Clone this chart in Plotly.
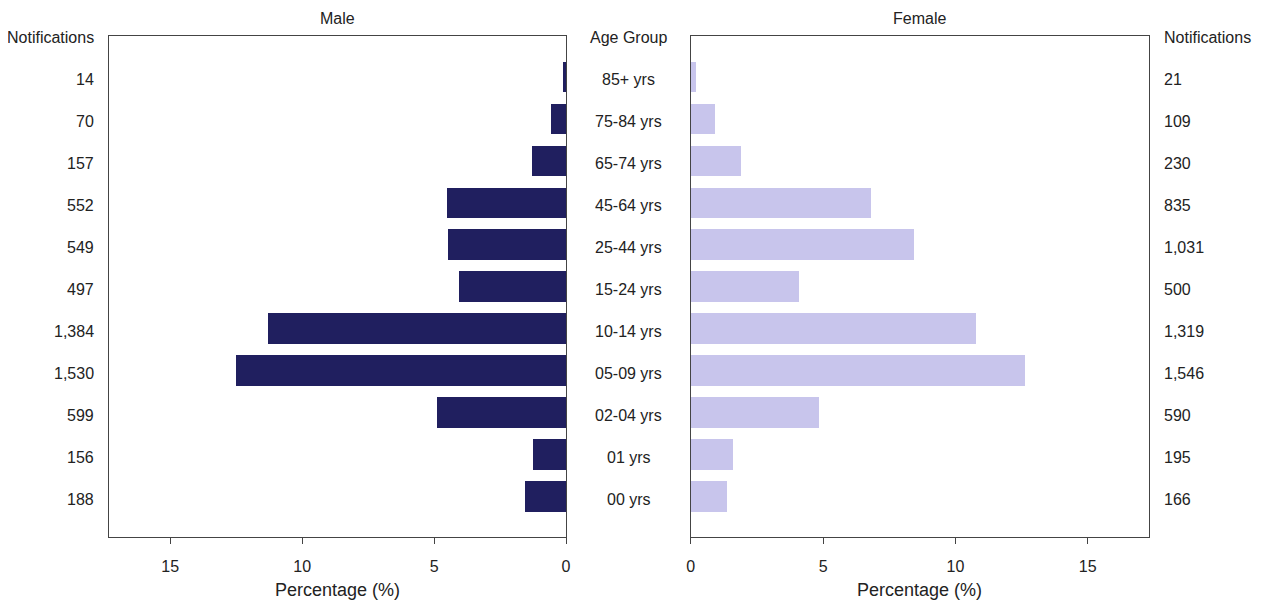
import plotly.graph_objects as go

W, H = 1263, 603

age_groups = ["00 yrs", "01 yrs", "02-04 yrs", "05-09 yrs", "10-14 yrs", "15-24 yrs",
              "25-44 yrs", "45-64 yrs", "65-74 yrs", "75-84 yrs", "85+ yrs"]
male_notifications = ["188", "156", "599", "1,530", "1,384", "497", "549", "552", "157", "70", "14"]
female_notifications = ["166", "195", "590", "1,546", "1,319", "500", "1,031", "835", "230", "109", "21"]
male_pct = [1.54, 1.27, 4.89, 12.50, 11.31, 4.06, 4.49, 4.51, 1.28, 0.57, 0.11]
female_pct = [1.36, 1.59, 4.82, 12.63, 10.78, 4.09, 8.42, 6.82, 1.88, 0.89, 0.17]
x_ticks = [0, 5, 10, 15]

ypos = list(range(len(age_groups)))

MALE_C = "#201F5F"
FEMALE_C = "#C8C5EC"
LINE_C = "#444444"
TXT_C = "#222222"
FONT = "Liberation Sans, Arial, sans-serif"
FS = 16
OFF = 8  # page body margin

def px_x(p):
    return (p - OFF) / W

def px_y(p):
    return 1 - (p - OFF) / H

fig = go.Figure()
fig.add_trace(go.Bar(x=male_pct, y=ypos, orientation="h", width=0.727,
                     marker=dict(color=MALE_C, line=dict(width=0)),
                     xaxis="x", yaxis="y", showlegend=False))
fig.add_trace(go.Bar(x=female_pct, y=ypos, orientation="h", width=0.727,
                     marker=dict(color=FEMALE_C, line=dict(width=0)),
                     xaxis="x2", yaxis="y2", showlegend=False))

xr = 17.32
yr = [-0.975, 10.975]
ydom = [px_y(537.3), px_y(36)]

axis_common = dict(showline=True, linecolor=LINE_C, linewidth=1, mirror=True,
                   showgrid=False, zeroline=False)

fig.update_layout(
    width=W, height=H,
    margin=dict(l=0, r=0, t=0, b=0),
    plot_bgcolor="white", paper_bgcolor="white",
    font=dict(family=FONT, size=FS, color=TXT_C),
    bargap=0,
    xaxis=dict(domain=[px_x(105.7), px_x(566)], range=[xr, 0], tickvals=x_ticks,
               ticks="outside", ticklen=6, tickcolor=LINE_C, ticklabelstandoff=8,
               tickfont=dict(size=FS, family=FONT, color=TXT_C),
               anchor="y", **axis_common),
    yaxis=dict(domain=ydom, range=yr, showticklabels=False, ticks="",
               anchor="x", **axis_common),
    xaxis2=dict(domain=[px_x(691.7), px_x(1153.3)], range=[0, xr], tickvals=x_ticks,
                ticks="outside", ticklen=6, tickcolor=LINE_C, ticklabelstandoff=8,
                tickfont=dict(size=FS, family=FONT, color=TXT_C),
                anchor="y2", **axis_common),
    yaxis2=dict(domain=ydom, range=yr, showticklabels=False, ticks="",
                anchor="x2", **axis_common),
)

ann = []
for i, (ag, mn, fn) in enumerate(zip(age_groups, male_notifications, female_notifications)):
    ann.append(dict(x=px_x(629), y=i, xref="paper", yref="y", text=ag, showarrow=False,
                    xanchor="center", yanchor="middle", yshift=-3))
    ann.append(dict(x=px_x(93), y=i, xref="paper", yref="y", text=mn, showarrow=False,
                    xanchor="right", yanchor="middle", yshift=-3))
    ann.append(dict(x=px_x(1166), y=i, xref="paper", yref="y", text=fn, showarrow=False,
                    xanchor="left", yanchor="middle", yshift=-3))

ann += [
    dict(x=px_x(93), y=px_y(38), xref="paper", yref="paper", text="Notifications",
         showarrow=False, xanchor="right", yanchor="middle"),
    dict(x=px_x(1166), y=px_y(38), xref="paper", yref="paper", text="Notifications",
         showarrow=False, xanchor="left", yanchor="middle"),
    dict(x=px_x(629), y=px_y(38), xref="paper", yref="paper", text="Age Group",
         showarrow=False, xanchor="center", yanchor="middle"),
    dict(x=px_x(336), y=px_y(18), xref="paper", yref="paper", text="Male",
         showarrow=False, xanchor="center", yanchor="middle"),
    dict(x=px_x(922), y=px_y(18), xref="paper", yref="paper", text="Female",
         showarrow=False, xanchor="center", yanchor="middle"),
    dict(x=px_x(336), y=px_y(590), xref="paper", yref="paper", text="Percentage (%)",
         showarrow=False, xanchor="center", yanchor="middle", font=dict(size=18)),
    dict(x=px_x(922), y=px_y(590), xref="paper", yref="paper", text="Percentage (%)",
         showarrow=False, xanchor="center", yanchor="middle", font=dict(size=18)),
]
fig.update_layout(annotations=ann)

fig.write_html("out.html")
